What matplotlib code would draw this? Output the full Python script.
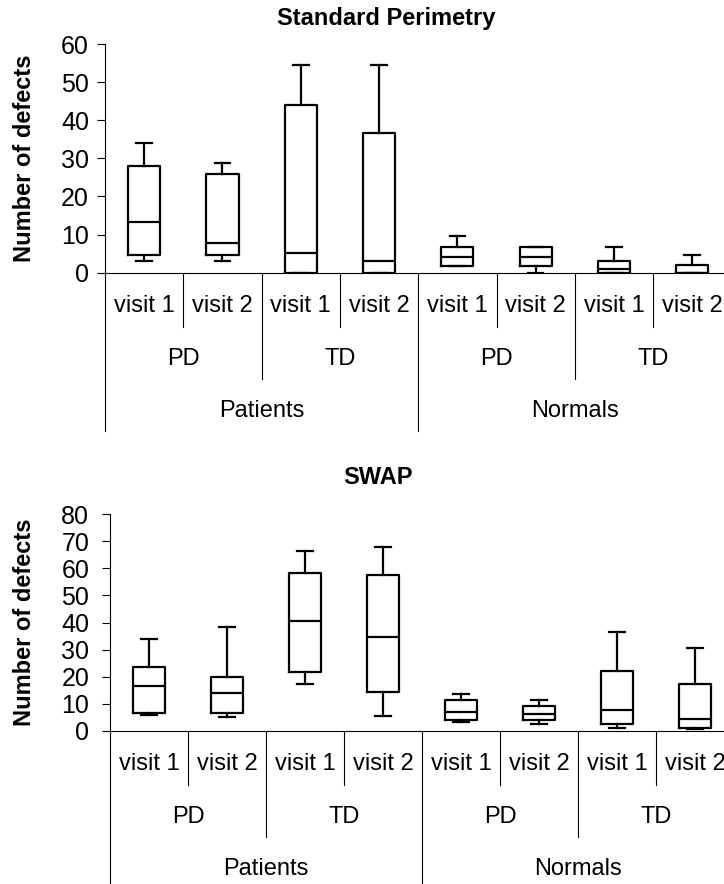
import matplotlib.pyplot as plt
from matplotlib.transforms import blended_transform_factory

plt.rcParams['font.family'] = ['Liberation Sans', 'DejaVu Sans']

visits = ['visit 1', 'visit 2'] * 4
types = ['PD', 'TD', 'PD', 'TD']
groups = ['Patients', 'Normals']

# Standard Perimetry : whisker low, Q1, median, Q3, whisker high
sp_low = [3.1, 3.1, 0, 0, 1.8, 0, 0, 0]
sp_q1 = [4.6, 4.6, 0, 0, 1.8, 1.8, 0, 0]
sp_med = [13.2, 7.7, 5.2, 3.2, 4.2, 4.2, 1.0, 0]
sp_q3 = [27.9, 25.8, 44.0, 36.7, 6.7, 6.7, 3.0, 2.0]
sp_high = [34.1, 28.7, 54.6, 54.6, 9.7, 6.7, 6.7, 4.6]

# SWAP
sw_low = [5.9, 5.2, 17.1, 5.3, 3.1, 2.3, 1.0, 0.5]
sw_q1 = [6.7, 6.7, 21.6, 14.3, 3.8, 3.9, 2.3, 0.9]
sw_med = [16.5, 14.1, 40.6, 34.7, 7.0, 6.3, 7.5, 4.5]
sw_q3 = [23.7, 19.9, 58.2, 57.6, 11.2, 9.1, 22.2, 17.2]
sw_high = [34.0, 38.4, 66.6, 67.8, 13.5, 11.2, 36.4, 30.5]

W, H = 724, 884
fig = plt.figure(figsize=(W / 100, H / 100), dpi=100)


def panel(rect, low, q1, med, q3, high, ymax, title, title_xy, last_off, pad):
    left, top, bottom, cw = rect
    ax = fig.add_axes([left / W, 1 - bottom / H, 8 * cw / W, (bottom - top) / H])
    stats = [dict(whislo=a, q1=b, med=c, q3=d, whishi=e)
             for a, b, c, d, e in zip(low, q1, med, q3, high)]
    lp = dict(color='black', linewidth=1.6)
    ax.bxp(stats, positions=[i + 0.5 for i in range(8)], widths=0.41,
           capwidths=0.2, showfliers=False, boxprops=lp, medianprops=lp,
           whiskerprops=lp, capprops=lp)
    ax.set_xlim(0, 8)
    ax.set_ylim(0, ymax)
    ax.set_yticks(range(0, ymax + 1, 10))
    ax.set_xticks([])
    ax.tick_params(axis='y', labelsize=18, length=6, width=0.8, pad=pad)
    for s in ['top', 'right']:
        ax.spines[s].set_visible(False)
    for s in ['left', 'bottom']:
        ax.spines[s].set_linewidth(0.8)
    fig.text(25 / W, 1 - (top + bottom) / 2 / H, 'Number of defects',
             rotation=90, ha='center', va='center', fontsize=17,
             fontweight='bold')

    tr = blended_transform_factory(ax.transData, fig.transFigure)
    y0 = 1 - bottom / H
    ends = [54, 106, last_off]
    for i in range(9):
        lvl = 2 if i % 4 == 0 else (1 if i % 2 == 0 else 0)
        ax.plot([i, i], [y0, y0 - ends[lvl] / H], color='black', lw=0.8,
                transform=tr, clip_on=False)
    for i, t in enumerate(visits):
        ax.text(i + 0.5, y0 - 33 / H, t, transform=tr, ha='center',
                va='center', fontsize=17)
    for i, t in enumerate(types):
        ax.text(2 * i + 1, y0 - 86 / H, t, transform=tr, ha='center',
                va='center', fontsize=17)
    for i, t in enumerate(groups):
        ax.text(4 * i + 2, y0 - 138 / H, t, transform=tr, ha='center',
                va='center', fontsize=17)
    fig.text(title_xy[0] / W, 1 - title_xy[1] / H, title, ha='center',
             va='center', fontsize=17, fontweight='bold')
    return ax


panel((105, 44, 272.7, 78.3), sp_low, sp_q1, sp_med, sp_q3, sp_high, 60,
      'Standard Perimetry', (386, 18), 158, 5.5)
panel((110, 514.3, 730.7, 78), sw_low, sw_q1, sw_med, sw_q3, sw_high, 80,
      'SWAP', (378, 477), 200, 9)

fig.savefig('out.png', dpi=100)
